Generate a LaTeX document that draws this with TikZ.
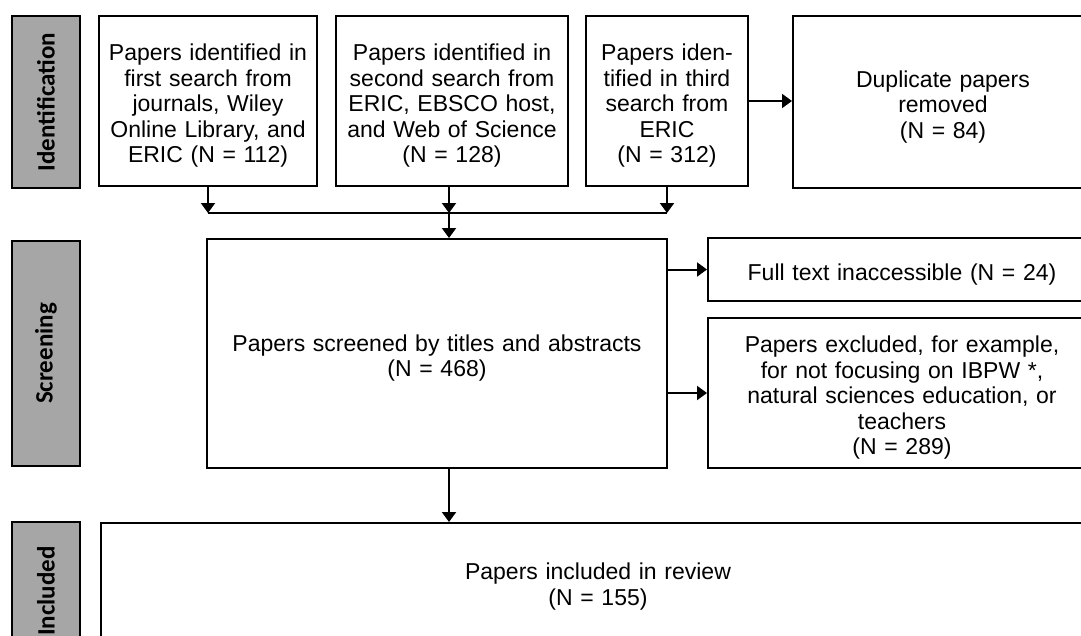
\documentclass[tikz,border=0pt]{standalone}
\usepackage{fontspec}
\setmainfont{Liberation Sans}
\newfontfamily\stagefont{Carlito}
\usetikzlibrary{arrows.meta}
\definecolor{stagegray}{HTML}{A6A6A6}
\tikzstyle{stage}=[draw, fill=stagegray, line width=2pt, rotate=90, minimum height=68pt, inner sep=0pt, font=\stagefont\bfseries\fontsize{25}{28}\selectfont]
\tikzstyle{paper}=[draw, line width=2pt, align=center, inner xsep=5pt, inner ysep=0pt, font=\fontsize{23}{25.5}\selectfont, execute at begin node={\rule{0pt}{26pt}}]
\tikzstyle{flow}=[line width=2pt, -{Triangle[width=14pt, length=10pt]}]

\begin{document}
\begin{tikzpicture}[x=1pt, y=-1pt]
	\useasboundingbox (0,0) rectangle (1081,635);
	\clip (0,0) rectangle (1081,635);
% Stages
	\node[stage, minimum width=172pt] (ident) at (46,102) {Identification};
	\node[stage, minimum width=225pt] (screening) at (46,353.5) {Screening};
	\node[stage, minimum width=138pt] (included) at (46,591) {Included};
% Identification
	\node[paper, text width=208pt, minimum height=170pt] (first) at (208,101) {Papers identified in\\first search from\\journals, Wiley\\Online Library, and\\ERIC (N = 112)};
	\node[paper, text width=222pt, minimum height=170pt] (second) at (452,101) {Papers identified in\\second search from\\ERIC, EBSCO host,\\and Web of Science\\(N = 128)};
	\node[paper, text width=152pt, minimum height=170pt] (third) at (667,101) {Papers iden-\\tified in third\\search from\\ERIC\\(N = 312)};
	\node[paper, text width=290pt, minimum height=172pt] (dup) at (943,102) {Duplicate papers\\removed\\(N = 84)};
% Screening
	\node[paper, text width=450pt, minimum height=229pt] (screen) at (437,353.5) {Papers screened by titles and abstracts\\(N = 468)};
	\node[paper, text width=378pt, minimum height=63pt] (fulltext) at (902,269.5) {Full text inaccessible (N = 24)};
	\node[paper, text width=378pt, minimum height=150pt] (excl) at (902,393) {Papers excluded, for example,\\for not focusing on IBPW *,\\natural sciences education, or\\teachers\\(N = 289)};
% Included
	\node[paper, text width=985pt, minimum height=118pt] (incl) at (598,582) {Papers included in review\\(N = 155)};
% Arrows
	\coordinate (join) at (449,213);
	\draw[line width=2pt] (first.south |- join) -- (third.south |- join);
	\draw[flow] (first.south) -- (first.south |- join);
	\draw[flow] (second.south -| join) -- (join);
	\draw[flow] (third.south) -- (third.south |- join);
	\draw[flow] (join) -- (join |- screen.north);
	\draw[flow] (third.east) -- (third.east -| dup.west);
	\draw[flow] (screen.east |- fulltext.west) -- (fulltext.west);
	\draw[flow] (screen.east |- excl.west) -- (excl.west);
	\draw[flow] (join |- screen.south) -- (join |- incl.north);
\end{tikzpicture}
\end{document}
